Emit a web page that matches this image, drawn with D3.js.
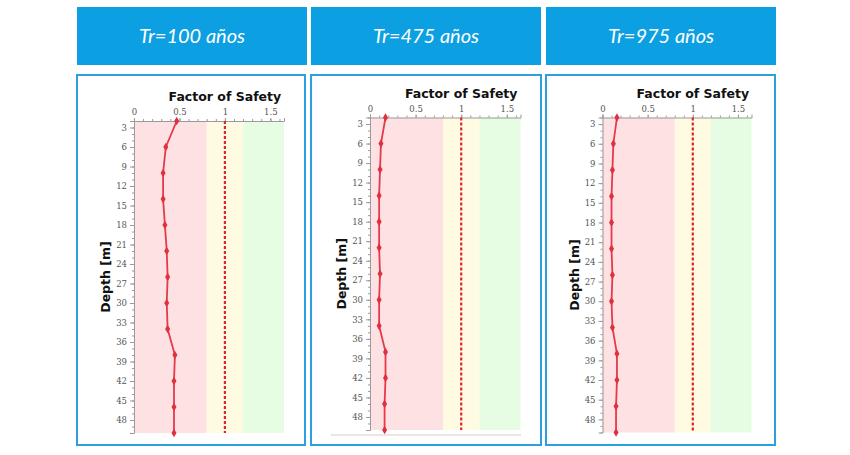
<!DOCTYPE html>
<html>
<head>
<meta charset="utf-8">
<script src="https://cdn.jsdelivr.net/npm/d3@7"></script>
<style>
  body { margin: 0; background: #fff; }
  svg { display: block; }
</style>
</head>
<body>
<svg id="chart" width="850" height="455"></svg>
<script>
// data
const titles = ['Tr=100 años', 'Tr=475 años', 'Tr=975 años'];
const depths = [2, 6, 10, 14, 18, 22, 26, 30, 34, 38, 42, 46, 50];
const fs100 = [0.47, 0.35, 0.32, 0.32, 0.34, 0.36, 0.37, 0.36, 0.37, 0.45, 0.44, 0.44, 0.44];
const fs475 = [0.17, 0.12, 0.11, 0.10, 0.10, 0.10, 0.11, 0.10, 0.10, 0.17, 0.17, 0.16, 0.16];
const fs975 = [0.16, 0.12, 0.11, 0.10, 0.10, 0.10, 0.11, 0.10, 0.11, 0.16, 0.16, 0.15, 0.15];
const series = [fs100, fs475, fs975];
const xTicks = [0, 0.5, 1, 1.5];
const yTicks = d3.range(3, 49, 3);
const bandLimits = [0, 0.8, 1.2, 1.65];
const bandColors = ['#fde1e3', '#fefbe2', '#e6fde3'];
const safetyLimit = 1;

// layout of the three panels
const panels = [
  { hx: 77,  bx: 77,  bw: 228, left: 134,   right: 284,   top: 121,   bottom: 433 },
  { hx: 311, bx: 311, bw: 230, left: 370,   right: 520.5, top: 117.5, bottom: 430 },
  { hx: 546, bx: 546, bw: 229, left: 602.5, right: 751.5, top: 117.5, bottom: 432.5 }
];

const svg = d3.select('#chart');

panels.forEach((p, i) => {
  // header
  svg.append('rect')
    .attr('x', p.hx).attr('y', 7)
    .attr('width', 230).attr('height', 58)
    .attr('fill', '#0c9fe2');
  svg.append('text')
    .attr('x', p.hx + 115).attr('y', 43)
    .attr('text-anchor', 'middle')
    .attr('fill', '#fff')
    .style('font-family', 'Lato, "Open Sans", sans-serif')
    .style('font-style', 'italic')
    .style('font-size', '20px')
    .text(titles[i]);

  // panel frame
  svg.append('rect')
    .attr('x', p.bx).attr('y', 75)
    .attr('width', p.bw).attr('height', 370)
    .attr('fill', '#fff')
    .attr('stroke', '#2b9fe0')
    .attr('stroke-width', 2);

  const x = d3.scaleLinear().domain([0, 1.65]).range([p.left, p.right]);
  const y = d3.scaleLinear().domain([2, 50]).range([p.top, p.bottom]);

  const g = svg.append('g');

  // safety bands
  g.selectAll('rect.band')
    .data(bandColors)
    .join('rect')
      .attr('class', 'band')
      .attr('x', (d, j) => x(bandLimits[j]))
      .attr('y', p.top)
      .attr('width', (d, j) => x(bandLimits[j + 1]) - x(bandLimits[j]))
      .attr('height', p.bottom - p.top)
      .attr('fill', d => d);

  // top axis
  g.append('g')
    .attr('transform', `translate(0, ${p.top})`)
    .call(d3.axisTop(x).tickValues(xTicks).tickFormat(d3.format('')).tickSize(3).tickPadding(3));
  g.append('g')
    .attr('transform', `translate(0, ${p.top})`)
    .call(d3.axisTop(x).tickValues(d3.range(0, 1.65, 0.1)).tickFormat('').tickSize(2))
    .select('.domain').remove();

  // left axis
  g.append('g')
    .attr('transform', `translate(${p.left}, 0)`)
    .call(d3.axisLeft(y).tickValues(yTicks).tickSize(4).tickPadding(3));
  g.append('g')
    .attr('transform', `translate(${p.left}, 0)`)
    .call(d3.axisLeft(y).tickValues(d3.range(2, 51, 1)).tickFormat('').tickSize(2))
    .select('.domain').remove();

  g.selectAll('.domain').attr('stroke', '#9a9a9a');
  g.selectAll('.tick line').attr('stroke', '#9a9a9a');
  g.selectAll('.tick text')
    .attr('fill', '#555')
    .style('font-family', '"DejaVu Serif", serif')
    .style('font-size', '8.5px');

  // safety line
  g.append('line')
    .attr('x1', x(safetyLimit)).attr('x2', x(safetyLimit))
    .attr('y1', p.top).attr('y2', p.bottom)
    .attr('stroke', '#e0242c')
    .attr('stroke-width', 2.2)
    .attr('stroke-dasharray', '3,2');

  // factor of safety profile
  const pts = depths.map((d, j) => ({ depth: d, fs: series[i][j] }));
  g.append('path')
    .datum(pts)
    .attr('fill', 'none')
    .attr('stroke', '#e63a4c')
    .attr('stroke-width', 1.8)
    .attr('d', d3.line().x(d => x(d.fs)).y(d => y(d.depth)));
  g.selectAll('path.mk')
    .data(pts)
    .join('path')
      .attr('class', 'mk')
      .attr('transform', d => `translate(${x(d.fs)}, ${y(d.depth)})`)
      .attr('d', d3.symbol().type(d3.symbolDiamond).size(22))
      .attr('fill', '#e0303f');

  // titles
  g.append('text')
    .attr('x', x(1)).attr('y', p.top - 20)
    .attr('text-anchor', 'middle')
    .attr('fill', '#111')
    .style('font-family', '"DejaVu Sans", sans-serif')
    .style('font-weight', 'bold')
    .style('font-size', '12.5px')
    .text('Factor of Safety');
  g.append('text')
    .attr('transform', `translate(${p.left - 24}, ${(p.top + p.bottom) / 2}) rotate(-90)`)
    .attr('text-anchor', 'middle')
    .attr('fill', '#111')
    .style('font-family', '"DejaVu Sans", sans-serif')
    .style('font-weight', 'bold')
    .style('font-size', '12.5px')
    .text('Depth [m]');
});

// faint baseline under the middle panel
svg.append('line')
  .attr('x1', 331).attr('x2', 521)
  .attr('y1', 435).attr('y2', 435)
  .attr('stroke', '#d9c9cb')
  .attr('stroke-width', 1);
</script>
</body>
</html>
